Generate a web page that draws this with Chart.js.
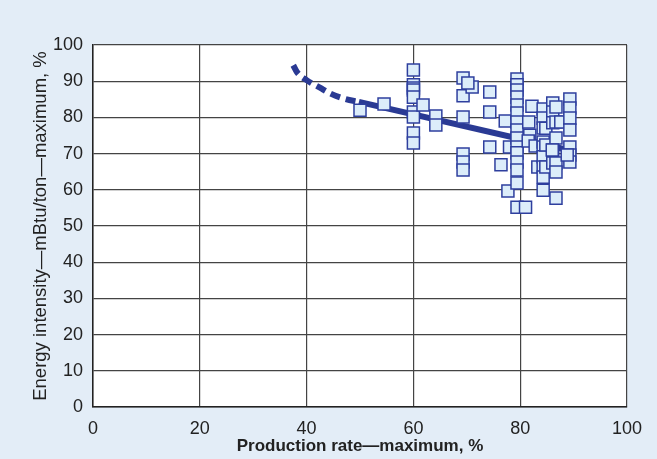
<!DOCTYPE html>
<html>
<head>
<meta charset="utf-8">
<script src="https://cdn.jsdelivr.net/npm/chart.js@4.4.1/dist/chart.umd.min.js"></script>
<style>
  html, body { margin: 0; padding: 0; background: #e3edf7; }
  #wrap { width: 657px; height: 459px; }
</style>
</head>
<body>
<div id="wrap"><canvas id="chart"></canvas></div>
<script>
// measured plants: production rate (% of max) vs energy intensity (% of max)
const prodRate = [
  50, 54.5,
  60, 60, 60, 60, 60, 60, 60, 60, 60, 61.8, 64.2, 64.2,
  69.3, 69.3, 69.3, 69.3, 69.3, 69.3, 71, 70.2,
  74.3, 74.3, 74.3, 76.4, 77.2, 77.7, 78,
  79.4, 79.4, 79.4, 79.4, 79.4, 79.4, 79.4, 79.4, 79.4, 79.4, 79.4, 79.4, 79.4, 79.4, 79.4, 81,
  82.2, 81.6, 81.8, 81.5, 82.8, 83.3,
  84.3, 84.3, 84.3, 84.3, 84.3, 84.3, 84.3, 84.3, 84.3,
  84.8, 84.8, 84.8,
  86.1, 86.1, 86.1, 86.1, 86.1,
  86.7, 86.7, 86.7, 86.7, 86.7, 86.7, 87.6, 86,
  89.3, 89.3, 89.3, 89.3, 89.3, 89.3, 89.3, 88.8
];
const energyIntensity = [
  82.0, 83.7,
  93.1, 89, 88.1, 87.6, 85.6, 81.5, 80.1, 75.7, 72.9, 83.4, 80.4, 77.9,
  90.9, 86, 80.1, 69.9, 67.7, 65.5, 88.4, 89.5,
  87, 81.5, 71.8, 66.9, 79, 59.7, 71.8,
  90.6, 89, 87.6, 85.6, 83.4, 81.2, 78.7, 76.5, 74.3, 71.8, 70.2, 67.7, 65.5, 61.9, 55.2, 55.2,
  83.1, 78.7, 75.1, 73.5, 72.1, 66.3,
  82.3, 79.8, 77.1, 73.2, 71.8, 69.1, 66.3, 63.5, 59.9,
  77, 72.4, 66.3,
  84, 81.5, 78.5, 71, 67.4,
  82.9, 78.7, 74.3, 67.4, 64.9, 57.7, 78.7, 71,
  85.1, 82.6, 79.8, 76.5, 71.8, 69.6, 67.7, 69.6
];

// fitted trend: extrapolated (dashed) part and fitted (solid) part
const dashX = [37.5, 38.2, 40, 42.5, 44.6, 47.2, 49.8];
const dashY = [94.4, 92.5, 90.3, 88.2, 86.5, 85.1, 84.3];
const solidX = [49.8, 89];
const solidY = [84.3, 71];

const xTitle = "Production rate\u2014maximum, %";
const yTitle = "Energy intensity\u2014mBtu/ton\u2014maximum, %";

const toPoints = (xs, ys) => xs.map((x, i) => ({x: x, y: ys[i]}));

const NAVY = "#2a3a94";
const FONT = "'Liberation Sans', Arial, sans-serif";

const bgPlugin = {
  id: "bg",
  beforeDraw(chart) {
    const {ctx, width, height, chartArea} = chart;
    ctx.save();
    ctx.fillStyle = "#e3edf7";
    ctx.fillRect(0, 0, width, height);
    ctx.fillStyle = "#ffffff";
    ctx.fillRect(chartArea.left, chartArea.top,
      chartArea.right - chartArea.left, chartArea.bottom - chartArea.top);
    ctx.restore();
  },
};

new Chart(document.getElementById("chart"), {
  type: "scatter",
  data: {
    datasets: [
      {
        label: "plants",
        data: toPoints(prodRate, energyIntensity),
        pointStyle: "rect",
        pointRadius: 8.5,
        pointBackgroundColor: "#dcedfa",
        pointBorderColor: "#2e3f9e",
        pointBorderWidth: 1.5,
        order: 1,
      },
      {
        type: "line",
        label: "extrapolated",
        data: toPoints(dashX, dashY),
        borderColor: NAVY,
        borderWidth: 6,
        borderDash: [10, 6],
        borderCapStyle: "butt",
        cubicInterpolationMode: "monotone",
        pointRadius: 0,
        fill: false,
        order: 2,
      },
      {
        type: "line",
        label: "trend",
        data: toPoints(solidX, solidY),
        borderColor: NAVY,
        borderWidth: 6,
        pointRadius: 0,
        fill: false,
        order: 2,
      },
    ],
  },
  options: {
    responsive: true,
    maintainAspectRatio: false,
    animation: false,
    layout: {padding: {top: 45, right: 30, left: 0, bottom: 0}},
    plugins: {
      legend: {display: false},
      tooltip: {enabled: false},
    },
    scales: {
      x: {
        type: "linear",
        min: 0,
        max: 100,
        ticks: {stepSize: 20, color: "#222", padding: 11, font: {family: FONT, size: 18}},
        grid: {color: "#444", lineWidth: 1.2, drawTicks: false},
        border: {display: true, color: "#222", width: 1.5},
        title: {
          display: true,
          text: xTitle,
          color: "#222",
          font: {family: FONT, size: 17, weight: "bold"},
          padding: {top: 0, bottom: 2},
        },
        afterFit(scale) { scale.height = 52; },
      },
      y: {
        min: 0,
        max: 100,
        ticks: {stepSize: 10, color: "#222", padding: 10, font: {family: FONT, size: 18}},
        grid: {color: "#444", lineWidth: 1.2, drawTicks: false},
        border: {display: true, color: "#222", width: 1.5},
        title: {
          display: true,
          text: yTitle,
          color: "#222",
          font: {family: FONT, size: 18.5},
          padding: {top: 30, bottom: 0},
        },
        afterFit(scale) { scale.width = 93; },
      },
    },
  },
  plugins: [bgPlugin],
});
</script>
</body>
</html>
